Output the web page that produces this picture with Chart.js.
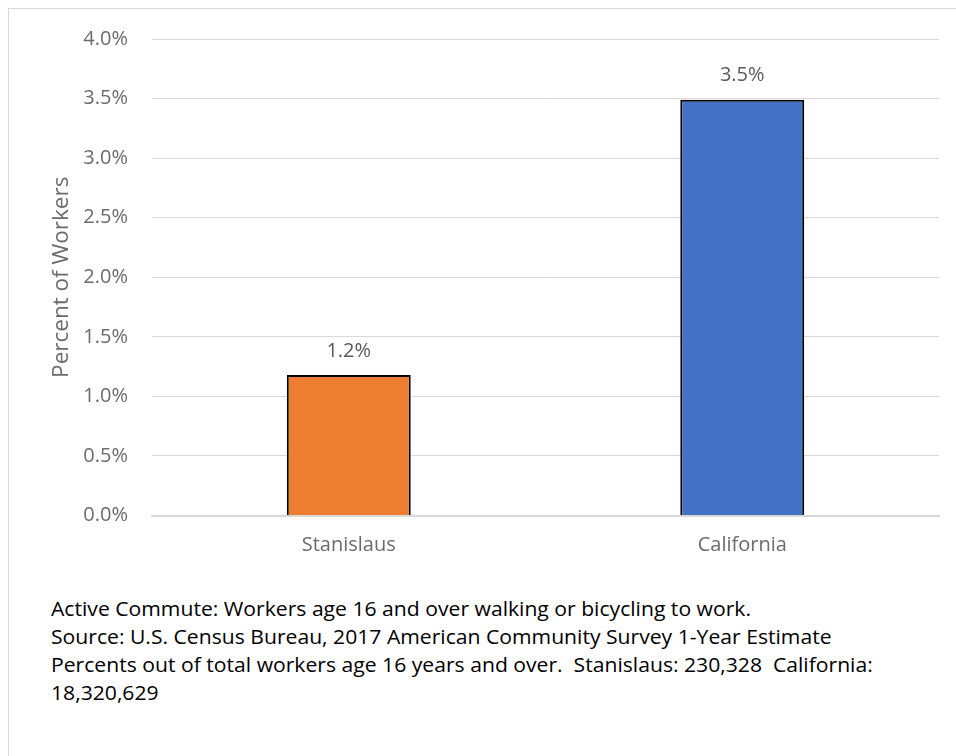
<!DOCTYPE html>
<html>
<head>
<meta charset="utf-8">
<script src="https://cdn.jsdelivr.net/npm/chart.js@4.4.1/dist/chart.umd.min.js"></script>
<style>
  html, body { margin: 0; padding: 0; background: #fff; width: 956px; height: 756px; overflow: hidden; }
  #frame { position: absolute; left: 8px; top: 8px; width: 1000px; height: 800px; border: 1px solid #d9d9d9; box-sizing: border-box; }
  #wrap { position: absolute; left: 0; top: 0; width: 956px; height: 580px; }
  #note { position: absolute; left: 51px; top: 595px; font-family: 'Open Sans', 'Noto Sans', sans-serif; font-size: 20px; line-height: 28px; color: #000; white-space: nowrap; transform-origin: 0 0; }
</style>
</head>
<body>
<div id="frame"></div>
<div id="wrap"><canvas id="chart"></canvas></div>
<div id="note"><span id="line1">Active Commute: Workers age 16 and over walking or bicycling to work.</span><br>Source: U.S. Census Bureau, 2017 American Community Survey 1-Year Estimate<br>Percents out of total workers age 16 years and over.&nbsp; Stanislaus: 230,328&nbsp; California:<br>18,320,629</div>
<script>
const categories = ['Stanislaus', 'California'];
const percentValues = [1.18, 3.49];
const barColors = ['#ED7D31', '#4472C4'];
const yTicks = [0, 0.5, 1, 1.5, 2, 2.5, 3, 3.5, 4];

const fontFamily = "'Open Sans', 'Noto Sans', sans-serif";
const tickFont = { family: fontFamily, size: 20 };

// squeeze the note a little so it reads like the narrow office font
const line1 = document.getElementById('line1');
const squeeze = 700 / line1.getBoundingClientRect().width;
document.getElementById('note').style.transform = 'scaleX(' + squeeze + ')';

// value labels above the bars
const barLabels = {
  id: 'barLabels',
  afterDatasetsDraw(chart) {
    const ctx = chart.ctx;
    const meta = chart.getDatasetMeta(0);
    ctx.save();
    ctx.font = '20px ' + fontFamily;
    ctx.fillStyle = '#595959';
    ctx.textAlign = 'center';
    ctx.textBaseline = 'middle';
    meta.data.forEach((bar, i) => {
      ctx.fillText(percentValues[i].toFixed(1) + '%', bar.x, bar.y - 24);
    });
    ctx.restore();
  }
};

new Chart(document.getElementById('chart'), {
  type: 'bar',
  data: {
    labels: categories,
    datasets: [{
      data: percentValues,
      backgroundColor: barColors,
      borderColor: '#000',
      borderWidth: 2,
      categoryPercentage: 1,
      barPercentage: 0.315
    }]
  },
  options: {
    responsive: true,
    maintainAspectRatio: false,
    animation: false,
    layout: { padding: { left: 0, right: 17, top: 39, bottom: 0 } },
    plugins: { legend: { display: false }, tooltip: { enabled: false } },
    scales: {
      x: {
        grid: { display: false, drawTicks: false },
        border: { display: true, color: '#d9d9d9', width: 2 },
        ticks: { color: '#6b6b6b', font: tickFont, padding: 18 },
        afterFit(scale) { scale.height = 64.5; }
      },
      y: {
        min: 0,
        max: 4,
        afterBuildTicks(scale) { scale.ticks = yTicks.map(v => ({ value: v })); },
        grid: { color: '#d9d9d9', lineWidth: 1, drawTicks: false },
        border: { display: false },
        ticks: {
          color: '#6b6b6b',
          font: tickFont,
          padding: 24,
          callback: v => v.toFixed(1) + '%'
        },
        title: {
          display: true,
          text: 'Percent of Workers',
          color: '#6b6b6b',
          font: { family: fontFamily, size: 22.5 },
          padding: { top: 48, bottom: 0 }
        },
        afterFit(scale) { scale.width = 152; }
      }
    }
  },
  plugins: [barLabels]
});
</script>
</body>
</html>
